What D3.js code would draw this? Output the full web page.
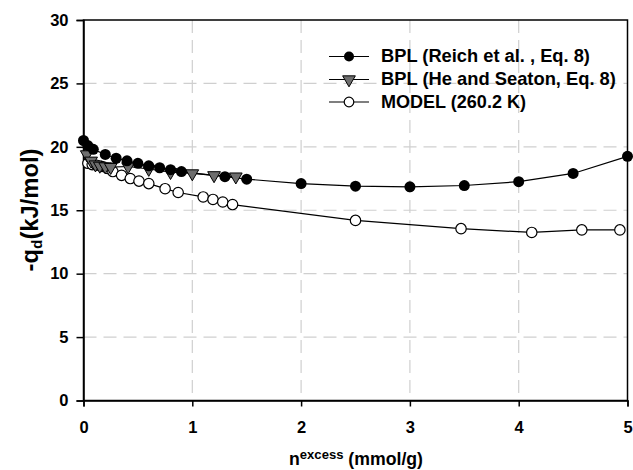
<!DOCTYPE html>
<html><head><meta charset="utf-8">
<script src="https://cdn.jsdelivr.net/npm/d3@7"></script>
<style>body{margin:0;background:#fff}svg{display:block;font-family:"Liberation Sans",Arial,sans-serif;font-weight:bold}</style>
</head><body><svg id="c" width="633" height="470"></svg>
<script>
const xTicks = [0,1,2,3,4,5];
const yTicks = [0,5,10,15,20,25,30];
const seriesNames = ["BPL (Reich et al. , Eq. 8)","BPL (He and Seaton, Eq. 8)","MODEL (260.2 K)"];
const reichX = [0,0.04,0.09,0.2,0.3,0.4,0.5,0.6,0.7,0.8,0.9,1.3,1.5,2.0,2.5,3.0,3.5,4.0,4.5,5.0];
const reichY = [20.5,20.1,19.8,19.4,19.1,18.9,18.7,18.5,18.35,18.2,18.05,17.65,17.45,17.1,16.9,16.85,16.95,17.25,17.9,19.25];
const heX = [0.03,0.07,0.11,0.15,0.2,0.25,0.41,0.6,0.8,1.0,1.2,1.4];
const heY = [19.4,18.9,18.6,18.5,18.45,18.4,18.45,18.25,18.0,17.9,17.75,17.65];
const modelX = [0.04,0.08,0.12,0.17,0.22,0.27,0.35,0.43,0.51,0.6,0.75,0.87,1.1,1.19,1.28,1.37,2.5,3.47,4.12,4.58,4.93];
const modelY = [18.7,18.6,18.55,18.45,18.3,18.05,17.75,17.5,17.3,17.1,16.7,16.4,16.05,15.85,15.65,15.45,14.2,13.55,13.25,13.45,13.45];

const svg = d3.select("#c");
const L=83.5,R=627.5,T=20,B=400.5;
const x = d3.scaleLinear().domain([0,5]).range([L,R]);
const y = d3.scaleLinear().domain([0,30]).range([B,T]);

function fitWidth(sel, target){
  const fs = parseFloat(sel.attr("font-size"));
  const w = sel.node().getBBox().width;
  sel.attr("font-size", (fs*target/w).toFixed(2));
}

// grid
const g = svg.append("g");
g.selectAll("line.vg").data(xTicks.slice(1,-1)).enter().append("line")
 .attr("x1",d=>x(d)).attr("x2",d=>x(d)).attr("y1",T).attr("y2",B)
 .attr("stroke","#cfcfcf").attr("stroke-width",1.2).attr("stroke-dasharray","13,7");
g.selectAll("line.hg").data(yTicks.slice(1,-1)).enter().append("line")
 .attr("x1",L).attr("x2",R).attr("y1",d=>y(d)).attr("y2",d=>y(d))
 .attr("stroke","#cfcfcf").attr("stroke-width",1.2).attr("stroke-dasharray","13,7");

// frame
svg.append("rect").attr("x",L).attr("y",T).attr("width",R-L).attr("height",B-T)
 .attr("fill","none").attr("stroke","#000").attr("stroke-width",1.5);

// axes
const xa = svg.append("g").attr("transform",`translate(0,${B})`)
 .call(d3.axisBottom(x).tickValues(xTicks).tickSize(6).tickPadding(15).tickFormat(d3.format("d")));
const ya = svg.append("g").attr("transform",`translate(${L},0)`)
 .call(d3.axisLeft(y).tickValues(yTicks).tickSize(7).tickPadding(8).tickFormat(d3.format("d")));
[xa,ya].forEach(a=>{a.select(".domain").attr("stroke","#000").attr("stroke-width",1.5);
 a.selectAll(".tick line").attr("stroke","#000").attr("stroke-width",1.5);
 a.selectAll("text").attr("font-size",16.5).attr("font-weight","bold").attr("fill","#000")
  .attr("font-family","Liberation Sans, Arial, sans-serif");});

// lines
const line = d3.line().x(d=>x(d[0])).y(d=>y(d[1]));
const reich = reichX.map((v,i)=>[v,reichY[i]]);
const he = heX.map((v,i)=>[v,heY[i]]);
const model = modelX.map((v,i)=>[v,modelY[i]]);
[model,he,reich].forEach(s=>svg.append("path").datum(s).attr("d",line)
 .attr("fill","none").attr("stroke","#000").attr("stroke-width",1.2));

const tri = d3.symbol().type(d3.symbolTriangle).size(70);
function drawModel(sel,data){sel.selectAll(null).data(data).enter().append("circle")
 .attr("cx",d=>x(d[0])).attr("cy",d=>y(d[1])).attr("r",5.2)
 .attr("fill","#fff").attr("stroke","#000").attr("stroke-width",1.2);}
function drawHe(sel,data){sel.selectAll(null).data(data).enter().append("path")
 .attr("d",tri).attr("transform",d=>`translate(${x(d[0])},${y(d[1])}) rotate(180)`)
 .attr("fill","#6e6e6e").attr("stroke","#000").attr("stroke-width",1);}
function drawReich(sel,data){sel.selectAll(null).data(data).enter().append("circle")
 .attr("cx",d=>x(d[0])).attr("cy",d=>y(d[1])).attr("r",5.5).attr("fill","#000");}
drawModel(svg.append("g"),model);
drawHe(svg.append("g"),he);
drawReich(svg.append("g"),reich);

// legend
const lg = svg.append("g");
const rows=[56.5,79.5,102];
const widths=[209,235,145];
rows.forEach((ry,i)=>{
 lg.append("line").attr("x1",329).attr("x2",369).attr("y1",ry).attr("y2",ry).attr("stroke","#000").attr("stroke-width",1.2);
 const t = lg.append("text").attr("x",381).attr("y",ry+5.8).attr("font-size",16).text(seriesNames[i]);
 fitWidth(t, widths[i]);
});
lg.append("circle").attr("cx",349).attr("cy",rows[0]).attr("r",5).attr("fill","#000");
lg.append("path").attr("d",tri).attr("transform",`translate(349,${rows[1]}) rotate(180)`).attr("fill","#6e6e6e").attr("stroke","#000");
lg.append("circle").attr("cx",349).attr("cy",rows[2]).attr("r",4.8).attr("fill","#fff").attr("stroke","#000").attr("stroke-width",1.2);

// axis titles
const xt = svg.append("text").attr("x",356).attr("y",465).attr("text-anchor","middle").attr("font-size",17.5);
xt.append("tspan").text("n");
xt.append("tspan").attr("dy","-0.45em").attr("font-size","0.74em").text("excess");
xt.append("tspan").attr("dy","0.33em").text(" (mmol/g)");
fitWidth(xt, 134);
const yt = svg.append("text").attr("transform","translate(38,210) rotate(-90)").attr("text-anchor","middle").attr("font-size",19);
yt.append("tspan").text("-q");
yt.append("tspan").attr("dy","0.25em").attr("font-size","0.65em").text("d");
yt.append("tspan").attr("dy","-0.16em").text("(kJ/mol)");
fitWidth(yt, 123);
</script></body></html>
